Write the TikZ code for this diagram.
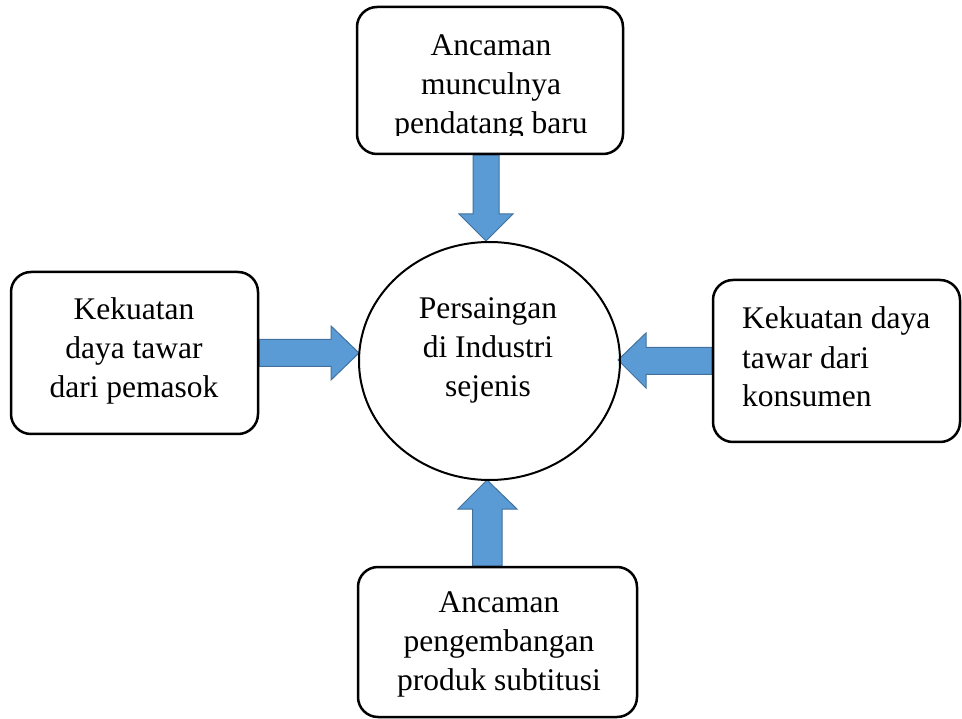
\documentclass[tikz,border=0pt]{standalone}
\usepackage{fontspec}
\setmainfont{Liberation Serif}
\usetikzlibrary{shapes.geometric,calc,backgrounds}
\definecolor{arrfill}{HTML}{5B9BD5}
\definecolor{arrline}{HTML}{41719C}
\tikzset{
  box/.style={draw=black, line width=2.5pt, rounded corners=20pt, inner sep=0pt},
  ring/.style={ellipse, draw=black, line width=2pt, inner sep=0pt},
  lbl/.style={font=\fontsize{31.5}{39}\selectfont, inner sep=0pt, anchor=base},
  barrow/.style={fill=arrfill, draw=arrline, line width=1pt, line join=miter},
}
\begin{document}
\begin{tikzpicture}[x=1pt,y=-1pt]
\useasboundingbox (0,0) rectangle (962,719);
% boxes
\node[box, minimum width=266pt, minimum height=147pt] (topbox) at (490,80.5) {};
\node[box, minimum width=247pt, minimum height=162pt] (leftbox) at (134.5,353) {};
\node[box, minimum width=247pt, minimum height=162pt] (rightbox) at (836.5,361) {};
\node[box, minimum width=279pt, minimum height=150pt] (botbox) at (497.5,642) {};
\node[ring, minimum width=261pt, minimum height=238pt] (circ) at (489.5,361) {};
% texts (anchor = baseline of the last line)
\begin{scope}
  \clip (0,0) rectangle (962,135.5);
  \node[lbl, align=center] (toptext) at (491,134) {Ancaman\\munculnya\\pendatang baru};
\end{scope}
\node[lbl, align=center] (lefttext) at (134,398) {Kekuatan\\daya tawar\\dari pemasok};
\node[lbl, align=center] (circtext) at (488,397) {Persaingan\\di Industri\\sejenis};
\node[lbl, align=left, anchor=base west] (righttext) at (742,407) {Kekuatan daya\\tawar dari\\konsumen};
\node[lbl, align=center] (bottext) at (499,690) {Ancaman\\pengembangan\\produk subtitusi};
% block arrows
\begin{scope}[on background layer]
\draw[barrow] let \p1=(topbox.south), \p2=(circ.north) in
  (\x1-17pt,\y1) -- (\x1+9pt,\y1) -- (\x1+9pt,\y2+27pt) -- (\x1+23pt,\y2+27pt)
  -- (\x1-4pt,\y2) -- (\x1-31pt,\y2+27pt) -- (\x1-17pt,\y2+27pt) -- cycle;
\draw[barrow] let \p1=(leftbox.east), \p2=(circ.west) in
  (\x1,\y1+13.5pt) -- (\x2-27pt,\y1+13.5pt) -- (\x2-27pt,\y1+27pt) -- (\x2+1pt,\y1)
  -- (\x2-27pt,\y1-27pt) -- (\x2-27pt,\y1-13.5pt) -- (\x1,\y1-13.5pt) -- cycle;
\draw[barrow] let \p1=(rightbox.west), \p2=(circ.east) in
  (\x1,\y1+13.5pt) -- (\x2+25pt,\y1+13.5pt) -- (\x2+25pt,\y1+28pt) -- (\x2-3pt,\y1+1pt)
  -- (\x2+25pt,\y1-27pt) -- (\x2+25pt,\y1-13.5pt) -- (\x1,\y1-13.5pt) -- cycle;
\draw[barrow] let \p1=(botbox.north), \p2=(circ.south) in
  (\x1-25pt,\y1) -- (\x1+4.5pt,\y1) -- (\x1+4.5pt,\y2-28pt) -- (\x1+19.5pt,\y2-28pt)
  -- (\x1-10.5pt,\y2+1pt) -- (\x1-39.5pt,\y2-28pt) -- (\x1-25pt,\y2-28pt) -- cycle;
\end{scope}
\end{tikzpicture}
\end{document}
